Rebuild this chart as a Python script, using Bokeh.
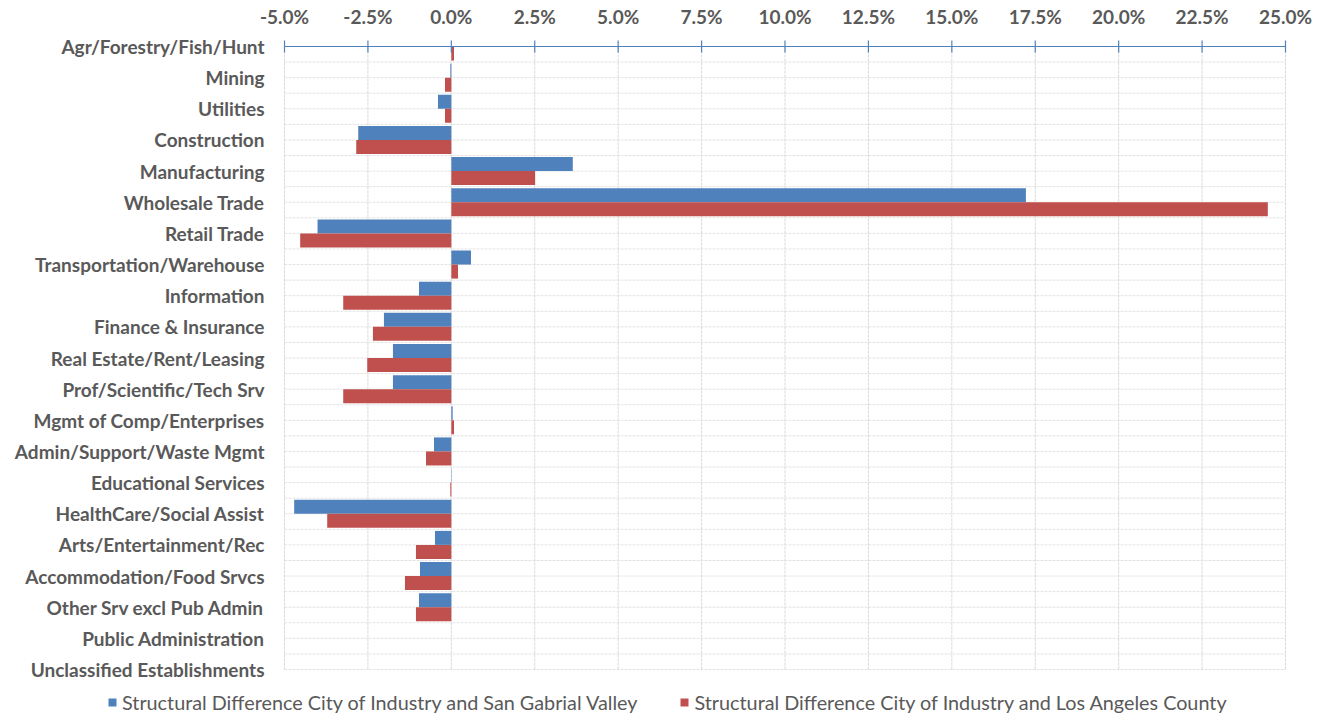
from bokeh.plotting import figure
from bokeh.models import (ColumnDataSource, Range1d, FixedTicker, PrintfTickFormatter,
                          LinearAxis, Legend, LegendItem)
from bokeh.core.properties import value
from bokeh.embed import file_html
from bokeh.resources import INLINE

categories = [
    "Agr/Forestry/Fish/Hunt", "Mining", "Utilities", "Construction", "Manufacturing",
    "Wholesale Trade", "Retail Trade", "Transportation/Warehouse", "Information",
    "Finance & Insurance", "Real Estate/Rent/Leasing", "Prof/Scientific/Tech Srv",
    "Mgmt of Comp/Enterprises", "Admin/Support/Waste Mgmt", "Educational Services",
    "HealthCare/Social Assist", "Arts/Entertainment/Rec", "Accommodation/Food Srvcs",
    "Other Srv excl Pub Admin", "Public Administration", "Unclassified Establishments",
]
# percent values
sgv = [0.0, -0.03, -0.40, -2.79, 3.64, 17.22, -4.01, 0.59, -0.97, -2.02, -1.75, -1.75,
       0.04, -0.52, 0.01, -4.71, -0.49, -0.94, -0.97, 0.0, 0.0]
lac = [0.08, -0.19, -0.19, -2.85, 2.51, 24.47, -4.53, 0.20, -3.24, -2.35, -2.52, -3.24,
       0.08, -0.76, -0.03, -3.72, -1.06, -1.39, -1.06, 0.0, 0.0]
series_names = ["Structural Difference City of Industry and San Gabrial Valley",
                "Structural Difference City of Industry and Los Angeles County"]
colors = ["#4F81BD", "#C0504D"]
x_ticks = [-5.0, -2.5, 0.0, 2.5, 5.0, 7.5, 10.0, 12.5, 15.0, 17.5, 20.0, 22.5, 25.0]

FONT = "Lato"
TXT = "#595959"
AXIS_BLUE = "#4F81BD"

W, H = 1325, 715
FRAME_TOP = 28
PLOT_T, PLOT_L, PLOT_R, PLOT_B = 46, 284, 1285, 669
TICK_PX = 6

n = len(categories)
idx = list(range(n))
xmin, xmax = x_ticks[0], x_ticks[-1]
pxu = (PLOT_R - PLOT_L) / (xmax - xmin)
pyu = (PLOT_B - PLOT_T) / (n - 1)
x_range = Range1d(xmin - PLOT_L / pxu, xmax + (W - PLOT_R) / pxu)
y_range = Range1d((n - 1) + (H - PLOT_B) / pyu, -(PLOT_T - FRAME_TOP) / pyu)

bar_h = 0.45
src_a = ColumnDataSource(dict(y=[i - bar_h / 2 for i in idx], v=sgv))
src_b = ColumnDataSource(dict(y=[i + bar_h / 2 for i in idx], v=lac))

p = figure(width=W, height=H, output_backend="svg", toolbar_location=None,
           x_range=x_range, y_range=y_range,
           x_axis_location=None, y_axis_location=None,
           min_border_left=0, min_border_right=0, min_border_top=FRAME_TOP, min_border_bottom=0)
p.outline_line_color = None
p.xgrid.visible = False
p.ygrid.visible = False

# gridlines
hy = [i / 2 for i in range(1, 2 * (n - 1) + 1)]
p.segment(x0=[xmin] * len(hy), x1=[xmax] * len(hy), y0=hy, y1=hy,
          line_color="#e3e3e3", line_width=1, line_dash="3 1")
p.segment(x0=x_ticks, x1=x_ticks, y0=[0] * len(x_ticks), y1=[n - 1] * len(x_ticks),
          line_color="#d9d9d9", line_width=1, line_dash="3 1")

ra = p.hbar(y="y", right="v", left=0, height=bar_h, source=src_a,
            fill_color=colors[0], line_color=None)
rb = p.hbar(y="y", right="v", left=0, height=bar_h, source=src_b,
            fill_color=colors[1], line_color=None)

# value axis line and tick marks at the first category
p.segment(x0=[xmin], x1=[xmax], y0=[0], y1=[0], line_color=AXIS_BLUE, line_width=1.2)
p.segment(x0=x_ticks, x1=x_ticks, y0=[-TICK_PX / pyu] * len(x_ticks),
          y1=[TICK_PX / pyu] * len(x_ticks), line_color=AXIS_BLUE, line_width=1.2)

# top value axis labels
xa = LinearAxis(ticker=FixedTicker(ticks=x_ticks), formatter=PrintfTickFormatter(format="%.1f%%"))
xa.axis_line_color = None
xa.major_tick_line_color = None
xa.major_tick_in = 0
xa.major_tick_out = 0
xa.minor_tick_line_color = None
xa.major_label_standoff = 1
xa.major_label_text_font = FONT
xa.major_label_text_font_style = "bold"
xa.major_label_text_font_size = "19px"
xa.major_label_text_color = TXT
p.add_layout(xa, "above")

# category labels
p.text(x=[xmin] * n, y=idx, text=categories, x_offset=-20,
       text_align="right", text_baseline="middle",
       text_font=value(FONT), text_font_style="bold", text_font_size="19px",
       text_color=TXT)

legend = Legend(items=[LegendItem(label=series_names[0], renderers=[ra]),
                       LegendItem(label=series_names[1], renderers=[rb])],
                orientation="horizontal", location=(107, 1))
legend.glyph_width = 10
legend.glyph_height = 10
legend.label_standoff = 5
legend.spacing = 42
legend.padding = 0
legend.margin = 0
legend.border_line_color = None
legend.background_fill_alpha = 0
legend.label_text_font = FONT
legend.label_text_font_size = "19.8px"
legend.label_text_color = TXT
p.add_layout(legend, "center")

open("out.html", "w").write(file_html(p, INLINE))
